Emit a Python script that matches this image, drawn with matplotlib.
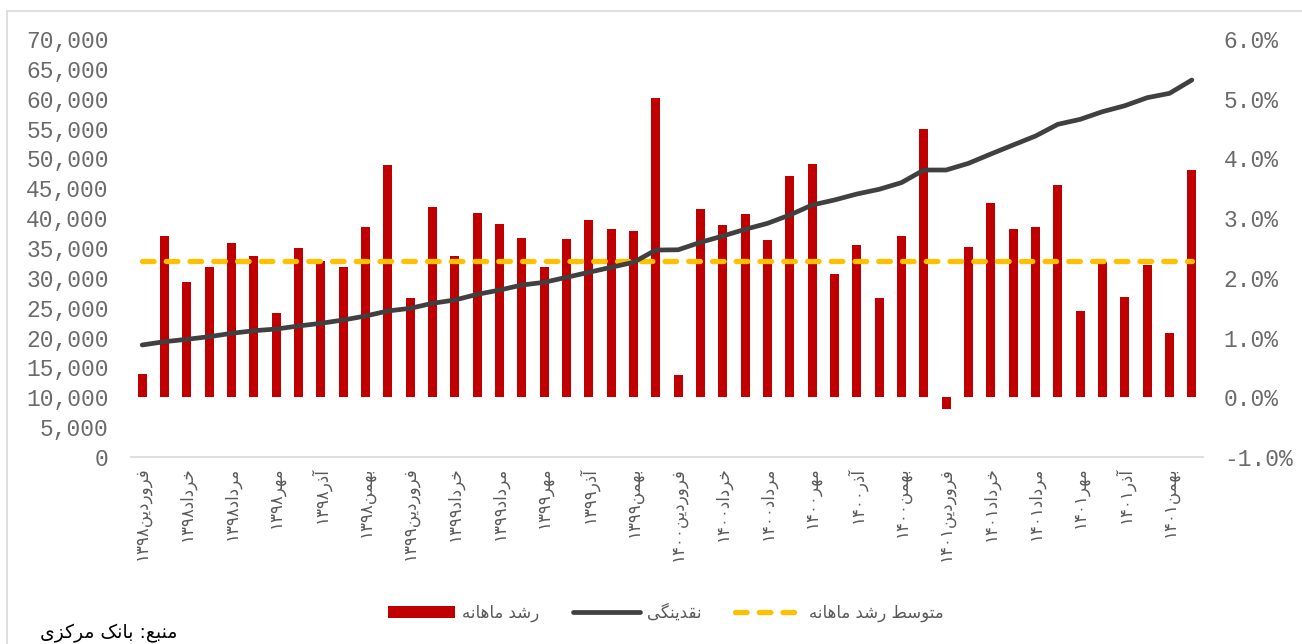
import re
import numpy as np
import matplotlib
matplotlib.use("Agg")
import matplotlib.pyplot as plt
from matplotlib.patches import Rectangle, Patch
from matplotlib.lines import Line2D
from matplotlib.ticker import FuncFormatter, MultipleLocator

# ---------------- data ----------------
month_names = ["فروردین", "اردیبهشت", "خرداد", "تیر", "مرداد", "شهریور",
               "مهر", "آبان", "آذر", "دی", "بهمن", "اسفند"]
years = ["۱۳۹۸", "۱۳۹۹", "۱۴۰۰", "۱۴۰۱"]
categories = [m + y for y in years for m in month_names]

# monthly growth (%), right axis
monthly_growth = [0.39, 2.70, 1.93, 2.19, 2.59, 2.37, 1.41, 2.50, 2.29, 2.18, 2.86, 3.89,
                  1.67, 3.19, 2.37, 3.09, 2.90, 2.67, 2.18, 2.65, 2.97, 2.82, 2.79, 5.01,
                  0.37, 3.15, 2.89, 3.07, 2.63, 3.71, 3.90, 2.07, 2.55, 1.66, 2.70, 4.49,
                  -0.20, 2.51, 3.25, 2.82, 2.86, 3.55, 1.45, 2.26, 1.68, 2.21, 1.07, 3.81]

# liquidity, left axis
liquidity = [18760, 19310, 19710, 20150, 20710, 21150, 21430, 21940, 22390, 22940, 23610, 24450,
             24900, 25740, 26290, 27240, 27950, 28800, 29250, 30090, 30930, 31770, 32600, 34660,
             34700, 35950, 37010, 38130, 39130, 40530, 42200, 43040, 44040, 44830, 45950, 48060,
             48060, 49180, 50740, 52250, 53750, 55710, 56550, 57830, 58830, 60170, 60900, 63130]

average_growth = 2.29

legend_labels = ["رشد ماهانه", "نقدینگی", "متوسط رشد ماهانه"]
source_text = "منبع: بانک مرکزی"

# ---------------- minimal Persian shaping ----------------
FORMS = {  # isolated, final, initial, medial
    "ا": ("\uFE8D", "\uFE8E", None, None),
    "آ": ("\uFE81", "\uFE82", None, None),
    "د": ("\uFEA9", "\uFEAA", None, None),
    "ذ": ("\uFEAB", "\uFEAC", None, None),
    "ر": ("\uFEAD", "\uFEAE", None, None),
    "ز": ("\uFEAF", "\uFEB0", None, None),
    "و": ("\uFEED", "\uFEEE", None, None),
    "ب": ("\uFE8F", "\uFE90", "\uFE91", "\uFE92"),
    "ت": ("\uFE95", "\uFE96", "\uFE97", "\uFE98"),
    "خ": ("\uFEA5", "\uFEA6", "\uFEA7", "\uFEA8"),
    "س": ("\uFEB1", "\uFEB2", "\uFEB3", "\uFEB4"),
    "ش": ("\uFEB5", "\uFEB6", "\uFEB7", "\uFEB8"),
    "ط": ("\uFEC1", "\uFEC2", "\uFEC3", "\uFEC4"),
    "ع": ("\uFEC9", "\uFECA", "\uFECB", "\uFECC"),
    "ف": ("\uFED1", "\uFED2", "\uFED3", "\uFED4"),
    "ق": ("\uFED5", "\uFED6", "\uFED7", "\uFED8"),
    "م": ("\uFEE1", "\uFEE2", "\uFEE3", "\uFEE4"),
    "ن": ("\uFEE5", "\uFEE6", "\uFEE7", "\uFEE8"),
    "ه": ("\uFEE9", "\uFEEA", "\uFEEB", "\uFEEC"),
    "ک": ("\uFB8E", "\uFB8F", "\uFB90", "\uFB91"),
    "گ": ("\uFB92", "\uFB93", "\uFB94", "\uFB95"),
    "ی": ("\uFBFC", "\uFBFD", "\uFBFE", "\uFBFF"),
}


def shape(text):
    out = []
    n = len(text)
    for i, ch in enumerate(text):
        if ch not in FORMS:
            out.append(ch)
            continue
        iso, fin, ini, med = FORMS[ch]
        prev = text[i - 1] if i > 0 else None
        nxt = text[i + 1] if i < n - 1 else None
        join_prev = prev in FORMS and FORMS[prev][2] is not None
        join_next = ini is not None and nxt in FORMS
        if join_prev and join_next:
            out.append(med)
        elif join_next:
            out.append(ini)
        elif join_prev:
            out.append(fin)
        else:
            out.append(iso)
    s = "".join(out)
    tokens = re.findall(r"[0-9\u06F0-\u06F9]+|.", s)
    return "".join(reversed(tokens))


# ---------------- plot ----------------
GRAY = "#595959"
fig = plt.figure(figsize=(13.02, 6.44), dpi=100)
ax = fig.add_axes([131 / 1302, 1 - 457 / 644, (1203 - 131) / 1302, (457 - 39) / 644])
ax2 = ax.twinx()
ax.set_zorder(ax2.get_zorder() + 1)
ax.patch.set_visible(False)

x = np.arange(len(categories))
ax2.bar(x, monthly_growth, width=0.4, color="#C00000", zorder=2)
ax2.plot([x[0], x[-1]], [average_growth, average_growth], color="#FFC000", lw=3.8,
         dashes=(2.2, 2.3), dash_capstyle="round", zorder=3)
ax.plot(x, liquidity, color="#404040", lw=3.4, solid_capstyle="round",
        solid_joinstyle="round", zorder=4)

ax.set_xlim(-0.5, len(categories) - 0.5)
ax.set_ylim(0, 70000)
ax2.set_ylim(-1.0, 6.0)
ax.yaxis.set_major_locator(MultipleLocator(5000))
ax2.yaxis.set_major_locator(MultipleLocator(1.0))
ax.yaxis.set_major_formatter(FuncFormatter(lambda v, p: f"{v:,.0f}"))
ax2.yaxis.set_major_formatter(FuncFormatter(lambda v, p: f"{v:.1f}%"))

for a in (ax, ax2):
    for s in ("top", "left", "right", "bottom"):
        a.spines[s].set_visible(False)
ax.spines["bottom"].set_visible(True)
ax.spines["bottom"].set_color("#D9D9D9")
ax.spines["bottom"].set_linewidth(1.2)

TICK_GRAY = "#6a6a6a"
ax.tick_params(axis="y", length=0, pad=16, labelcolor=TICK_GRAY)
ax2.tick_params(axis="y", length=0, pad=15, labelcolor=TICK_GRAY)
for lab in ax.get_yticklabels() + ax2.get_yticklabels():
    lab.set_fontfamily("Liberation Mono")
    lab.set_fontsize(16.5)

ax.set_xticks(x[::2])
ax.set_xticklabels([shape(c) for c in categories[::2]], rotation=90,
                   fontsize=12, color=GRAY, family="DejaVu Sans")
ax.tick_params(axis="x", length=0, pad=7)

handles = [Patch(facecolor="#C00000", edgecolor="none"),
           Line2D([], [], color="#404040", lw=3.4, solid_capstyle="round"),
           Line2D([], [], color="#FFC000", lw=3.8, dashes=(2.2, 2.3), dash_capstyle="round")]
leg = fig.legend(handles, [shape(t) for t in legend_labels], loc="center",
                 bbox_to_anchor=(666 / 1302, 1 - 613 / 644), ncol=3, frameon=False,
                 fontsize=12, handlelength=4.0, handleheight=0.7, handletextpad=0.45,
                 columnspacing=2.0)
for t in leg.get_texts():
    t.set_color(GRAY)

fig.text(40 / 1302, 1 - 633 / 644, shape(source_text), fontsize=13.5, color="black",
         ha="left", va="center", family="DejaVu Sans")

fig.add_artist(Rectangle((7 / 1302, -0.5), 1.5, 1.5 - 11 / 644, transform=fig.transFigure,
                         fill=False, edgecolor="#D9D9D9", lw=1.2))

fig.savefig("out.png", dpi=100)
